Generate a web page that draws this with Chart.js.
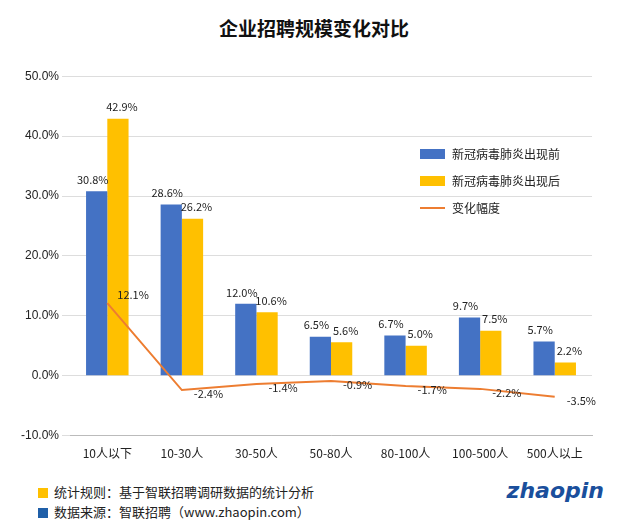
<!DOCTYPE html>
<html><head><meta charset="utf-8">
<script src="https://cdn.jsdelivr.net/npm/chart.js@4/dist/chart.umd.min.js"></script>
<style>
body{margin:0;background:#fff;font-family:"Noto Sans CJK SC",sans-serif;}
#wrap{position:relative;width:628px;height:524px;}
#title{position:absolute;top:14px;left:0;width:628px;text-align:center;font-size:19px;font-weight:bold;color:#111;}
#c{position:absolute;left:0;top:66px;}
.note{position:absolute;left:38px;font-size:13px;color:#222;}
.sq{display:inline-block;width:10px;height:10px;margin-right:6px;vertical-align:middle;}
#logo{position:absolute;right:24px;top:478px;font:italic bold 22px "DejaVu Sans",sans-serif;color:#1a4f9c;}
</style></head><body>
<div id="wrap">
<div id="title">企业招聘规模变化对比</div>
<canvas id="c" width="628" height="398"></canvas>
<div class="note" style="top:482px"><span class="sq" style="background:#FFC000"></span>统计规则：基于智联招聘调研数据的统计分析</div>
<div class="note" style="top:502px"><span class="sq" style="background:#1F5FA8"></span>数据来源：智联招聘（www.zhaopin.com）</div>
<div id="logo">zhaopin</div>
</div>
<script>
const categories=["10人以下","10-30人","30-50人","50-80人","80-100人","100-500人","500人以上"];
const before=[30.8,28.6,12.0,6.5,6.7,9.7,5.7];
const after=[42.9,26.2,10.6,5.6,5.0,7.5,2.2];
const change=[12.1,-2.4,-1.4,-0.9,-1.7,-2.2,-3.5];
const yTicks=[-10,0,10,20,30,40,50];
const labelPlugin={id:'lbl',afterDatasetsDraw(ch){const ctx=ch.ctx;ctx.save();ctx.font='11px "Noto Sans CJK SC"';ctx.fillStyle='#222';
ch.data.datasets.forEach((ds,i)=>{ch.getDatasetMeta(i).data.forEach((el,j)=>{const v=ds.data[j];const t=v.toFixed(1)+'%';
if(i<2){ctx.textAlign='center';ctx.textBaseline='bottom';ctx.fillText(t,el.x+(i==0?-4:4),el.y-6);}
else{ctx.textAlign='left';ctx.textBaseline='middle';ctx.fillText(t,el.x+(j==0?10:12),el.y+(j==0?-8:4));}});});ctx.restore();}};
new Chart(document.getElementById('c'),{data:{labels:categories,datasets:[
{type:'bar',label:'新冠病毒肺炎出现前',data:before,backgroundColor:'#4472C4',barPercentage:1,categoryPercentage:0.57,order:2},
{type:'bar',label:'新冠病毒肺炎出现后',data:after,backgroundColor:'#FFC000',barPercentage:1,categoryPercentage:0.57,order:2},
{type:'line',label:'变化幅度',data:change,borderColor:'#ED7D31',borderWidth:2,pointRadius:0,order:1}]},
options:{responsive:false,animation:false,layout:{padding:{left:18,right:36,top:6,bottom:0}},
plugins:{legend:{display:false},tooltip:{enabled:false}},
scales:{x:{grid:{display:false},border:{color:'#bbb'},ticks:{color:'#222',font:{size:12,family:'Noto Sans CJK SC'}}},
y:{min:-10,max:50,afterBuildTicks(a){a.ticks=yTicks.map(v=>({value:v}));},grid:{color:'#ddd'},border:{display:false},
ticks:{color:'#222',font:{size:12},callback:v=>v.toFixed(1)+'%'}}}},
plugins:[labelPlugin,{id:'leg',afterDraw(ch){const ctx=ch.ctx;ctx.save();ctx.font='12px "Noto Sans CJK SC"';ctx.fillStyle='#222';ctx.textBaseline='middle';
const items=[['#4472C4','box'],['#FFC000','box'],['#ED7D31','line']];
items.forEach((it,i)=>{const y=88+i*27,x=420;ctx.fillStyle=it[0];if(it[1]=='box')ctx.fillRect(x,y-5,25,10);else ctx.fillRect(x,y-1,25,2);
ctx.fillStyle='#222';ctx.textAlign='left';ctx.fillText(ch.data.datasets[i].label,x+32,y);});ctx.restore();}}]});
</script></body></html>
